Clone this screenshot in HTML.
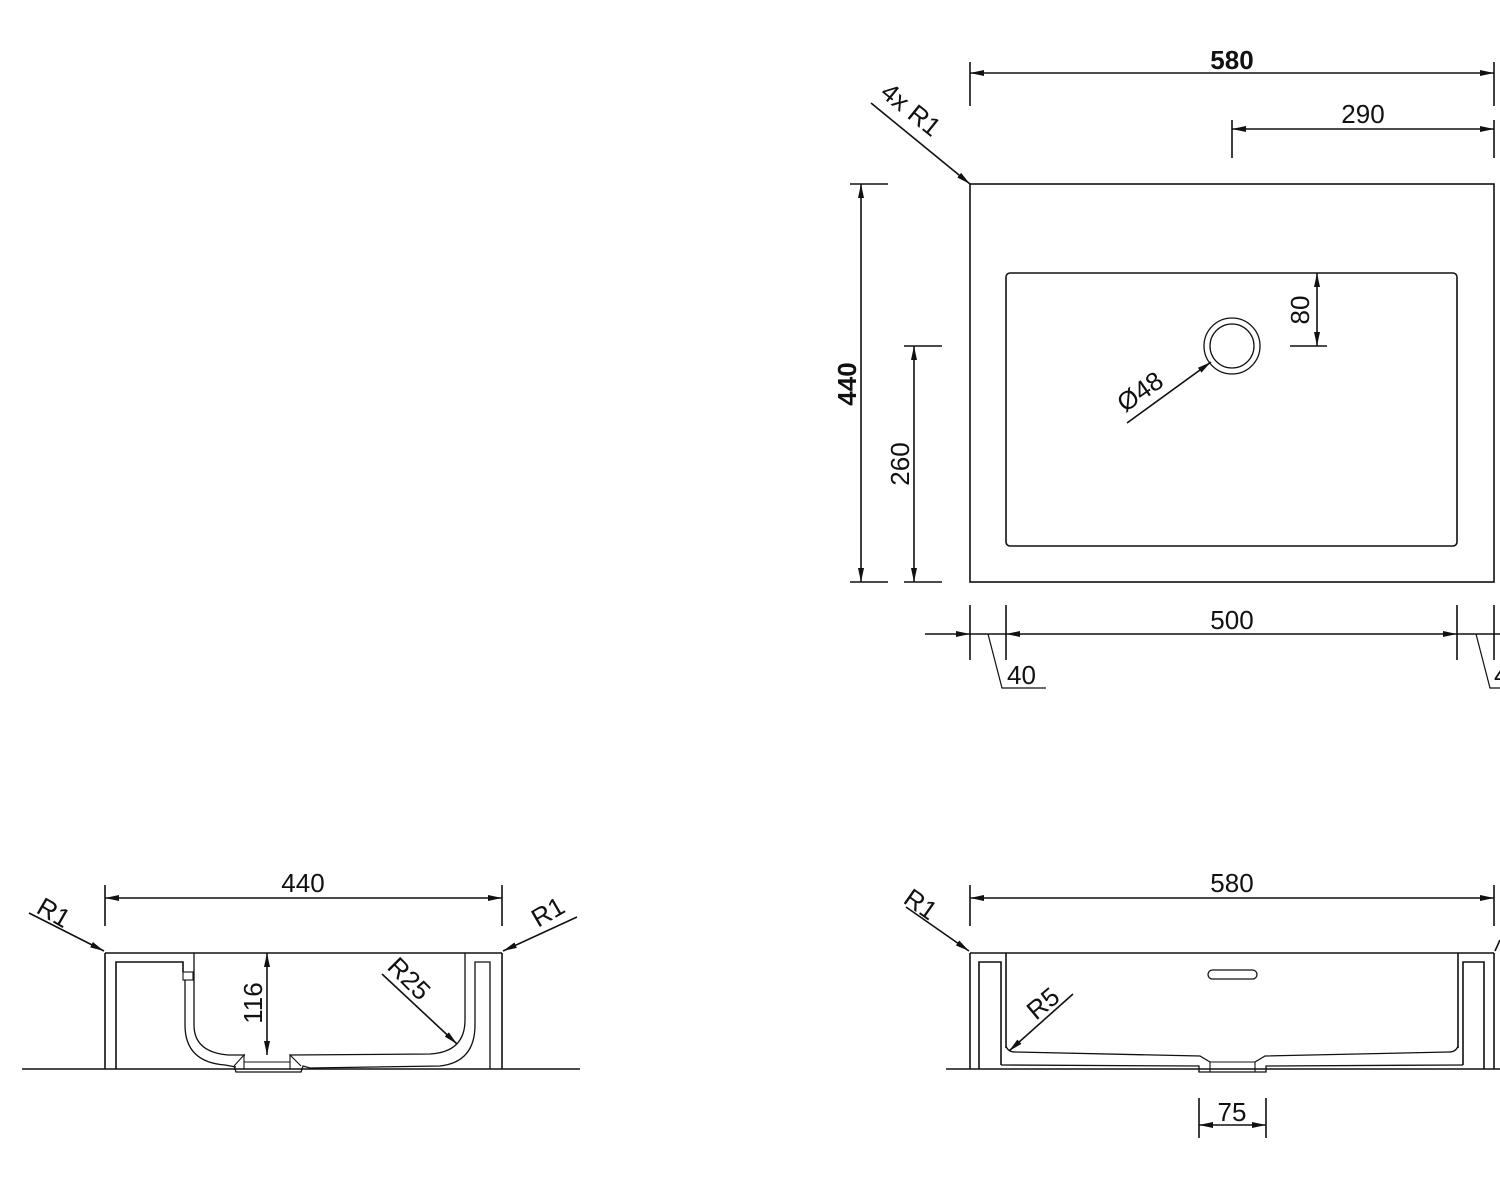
<!DOCTYPE html>
<html><head><meta charset="utf-8"><style>
html,body{margin:0;padding:0;background:#fff;width:1500px;height:1200px;overflow:hidden}
svg{display:block}
text{font-family:"Liberation Sans",Arial,sans-serif;fill:#111}
</style></head><body>
<svg width="1500" height="1200" viewBox="0 0 1500 1200" xmlns="http://www.w3.org/2000/svg">
<defs>
<marker id="a" viewBox="0 0 14 6" refX="14" refY="3" markerWidth="14" markerHeight="6" markerUnits="userSpaceOnUse" orient="auto-start-reverse"><path d="M0,0 L14,3 L0,6 z" fill="#111"/></marker>
</defs>
<g stroke="#111" stroke-width="1.6" fill="none">
<rect x="970" y="184" width="524" height="398"/>
<rect x="1006" y="273" width="451" height="273" rx="4"/>
<circle cx="1232" cy="346" r="28" stroke-width="1.3"/>
<circle cx="1232" cy="346" r="22" stroke-width="1.3"/>
<line x1="970" y1="62" x2="970" y2="106"/>
<line x1="1494" y1="62" x2="1494" y2="106"/>
<line x1="970" y1="73" x2="1494" y2="73" marker-start="url(#a)" marker-end="url(#a)"/>
<line x1="1232" y1="120" x2="1232" y2="158"/>
<line x1="1494" y1="120" x2="1494" y2="158"/>
<line x1="1232" y1="129" x2="1494" y2="129" marker-start="url(#a)" marker-end="url(#a)"/>
<line x1="871" y1="103" x2="970" y2="184" marker-end="url(#a)"/>
<line x1="850" y1="184" x2="888" y2="184"/>
<line x1="850" y1="582" x2="888" y2="582"/>
<line x1="861" y1="184" x2="861" y2="582" marker-start="url(#a)" marker-end="url(#a)"/>
<line x1="904" y1="346" x2="942" y2="346"/>
<line x1="904" y1="582" x2="942" y2="582"/>
<line x1="914" y1="346" x2="914" y2="582" marker-start="url(#a)" marker-end="url(#a)"/>
<line x1="1290" y1="346" x2="1327" y2="346"/>
<line x1="1317" y1="273" x2="1317" y2="346" marker-start="url(#a)" marker-end="url(#a)"/>
<line x1="1127" y1="423" x2="1211" y2="362" marker-end="url(#a)"/>
<line x1="970" y1="605" x2="970" y2="660"/>
<line x1="1006" y1="605" x2="1006" y2="660"/>
<line x1="1457" y1="605" x2="1457" y2="660"/>
<line x1="1494" y1="605" x2="1494" y2="660"/>
<line x1="925" y1="634" x2="970" y2="634" marker-end="url(#a)"/>
<line x1="970" y1="634" x2="1006" y2="634"/>
<line x1="1006" y1="634" x2="1457" y2="634" marker-start="url(#a)" marker-end="url(#a)"/>
<line x1="1457" y1="634" x2="1500" y2="634"/>
<polyline points="988,634 1002,688 1046,688" stroke-width="1.2"/>
<polyline points="1476,634 1490,688 1500,688" stroke-width="1.2"/>

<line x1="22" y1="1069" x2="580" y2="1069"/>
<line x1="105" y1="953" x2="502" y2="953"/>
<line x1="105" y1="953" x2="105" y2="1069"/>
<line x1="502" y1="953" x2="502" y2="1069"/>
<polyline points="116,1069 116,962 183,962 183,972"/>
<rect x="183" y="972" width="10" height="8" stroke-width="1.1"/>
<path d="M185,980 L185,1025 Q185,1062 225,1065 L236,1067" stroke-width="1.3"/>
<path d="M194,953 L194,1025 Q194,1052 228,1055 L245,1055" stroke-width="1.3"/>
<path d="M234,1066 L236,1072 L301,1072 L303,1066 L310,1068 L440,1066 Q475,1062 475,1025 L475,962 L490,962 L490,1069" stroke-width="1.3"/>
<path d="M290,1055 L430,1054 Q465,1052 465,1020 L465,953" stroke-width="1.3"/>
<polyline points="234,1066 244,1055 244,1069 290,1069 290,1055 301,1066" stroke-width="1.1"/>
<line x1="244" y1="1062" x2="290" y2="1062" stroke-width="1"/>
<line x1="105" y1="885" x2="105" y2="926"/>
<line x1="502" y1="885" x2="502" y2="926"/>
<line x1="105" y1="898" x2="502" y2="898" marker-start="url(#a)" marker-end="url(#a)"/>
<line x1="267" y1="953" x2="267" y2="1055" marker-start="url(#a)" marker-end="url(#a)"/>
<line x1="29" y1="913" x2="104" y2="951" marker-end="url(#a)"/>
<line x1="577" y1="917" x2="503" y2="951" marker-end="url(#a)"/>
<line x1="382" y1="974" x2="457" y2="1044" marker-end="url(#a)"/>

<line x1="946" y1="1069" x2="1500" y2="1069"/>
<line x1="970" y1="953" x2="1494" y2="953"/>
<line x1="970" y1="953" x2="970" y2="1069"/>
<line x1="1494" y1="953" x2="1494" y2="1069"/>
<polyline points="979,1069 979,962 1001,962 1001,1065"/>
<line x1="1006" y1="953" x2="1006" y2="1048"/>
<polyline points="1484,1069 1484,962 1463,962 1463,1065"/>
<line x1="1458" y1="953" x2="1458" y2="1048"/>
<path d="M1006,1046 Q1008,1052 1015,1052 L1200,1056 L1210,1062" stroke-width="1.3"/>
<path d="M1458,1046 Q1456,1052 1449,1052 L1265,1056 L1255,1062" stroke-width="1.3"/>
<polyline points="1001,1065 1199,1066 1199,1072 1266,1072 1266,1066 1463,1065" stroke-width="1.3"/>
<line x1="1210" y1="1062" x2="1210" y2="1072" stroke-width="1.1"/>
<line x1="1255" y1="1062" x2="1255" y2="1072" stroke-width="1.1"/>
<line x1="1210" y1="1062" x2="1255" y2="1062" stroke-width="1.1"/>
<rect x="1208" y="970" width="49" height="9" rx="4.5" stroke-width="1.3"/>
<line x1="970" y1="885" x2="970" y2="926"/>
<line x1="1494" y1="885" x2="1494" y2="926"/>
<line x1="970" y1="898" x2="1494" y2="898" marker-start="url(#a)" marker-end="url(#a)"/>
<line x1="906" y1="907" x2="969" y2="951" marker-end="url(#a)"/>
<path d="M1500,940 L1495,951" />
<line x1="1073" y1="994" x2="1009" y2="1051" marker-end="url(#a)"/>
<line x1="1199" y1="1098" x2="1199" y2="1138"/>
<line x1="1266" y1="1098" x2="1266" y2="1138"/>
<line x1="1199" y1="1125" x2="1266" y2="1125" marker-start="url(#a)" marker-end="url(#a)"/>
</g>

<g font-size="26">
<text x="1232" y="69" text-anchor="middle" font-weight="bold">580</text>
<text x="1363" y="123" text-anchor="middle">290</text>
<text x="0" y="0" transform="translate(879,95) rotate(39)">4x R1</text>
<text x="0" y="0" transform="translate(856,384) rotate(-90)" text-anchor="middle" font-weight="bold">440</text>
<text x="0" y="0" transform="translate(909,464) rotate(-90)" text-anchor="middle">260</text>
<text x="0" y="0" transform="translate(1309,310) rotate(-90)" text-anchor="middle">80</text>
<text x="0" y="0" transform="translate(1125,413) rotate(-35)">Ø48</text>
<text x="1232" y="629" text-anchor="middle">500</text>
<text x="1007" y="684">40</text>
<text x="1494" y="684">4</text>
<text x="303" y="892" text-anchor="middle">440</text>
<text x="0" y="0" transform="translate(35,912) rotate(30)">R1</text>
<text x="0" y="0" transform="translate(538,928) rotate(-30)">R1</text>
<text x="0" y="0" transform="translate(262,1003) rotate(-90)" text-anchor="middle">116</text>
<text x="0" y="0" transform="translate(386,968) rotate(45)">R25</text>
<text x="1232" y="892" text-anchor="middle">580</text>
<text x="0" y="0" transform="translate(902,902) rotate(35)">R1</text>
<text x="0" y="0" transform="translate(1036,1021) rotate(-40)">R5</text>
<text x="1232" y="1121" text-anchor="middle">75</text>
</g>
</svg>
</body></html>
